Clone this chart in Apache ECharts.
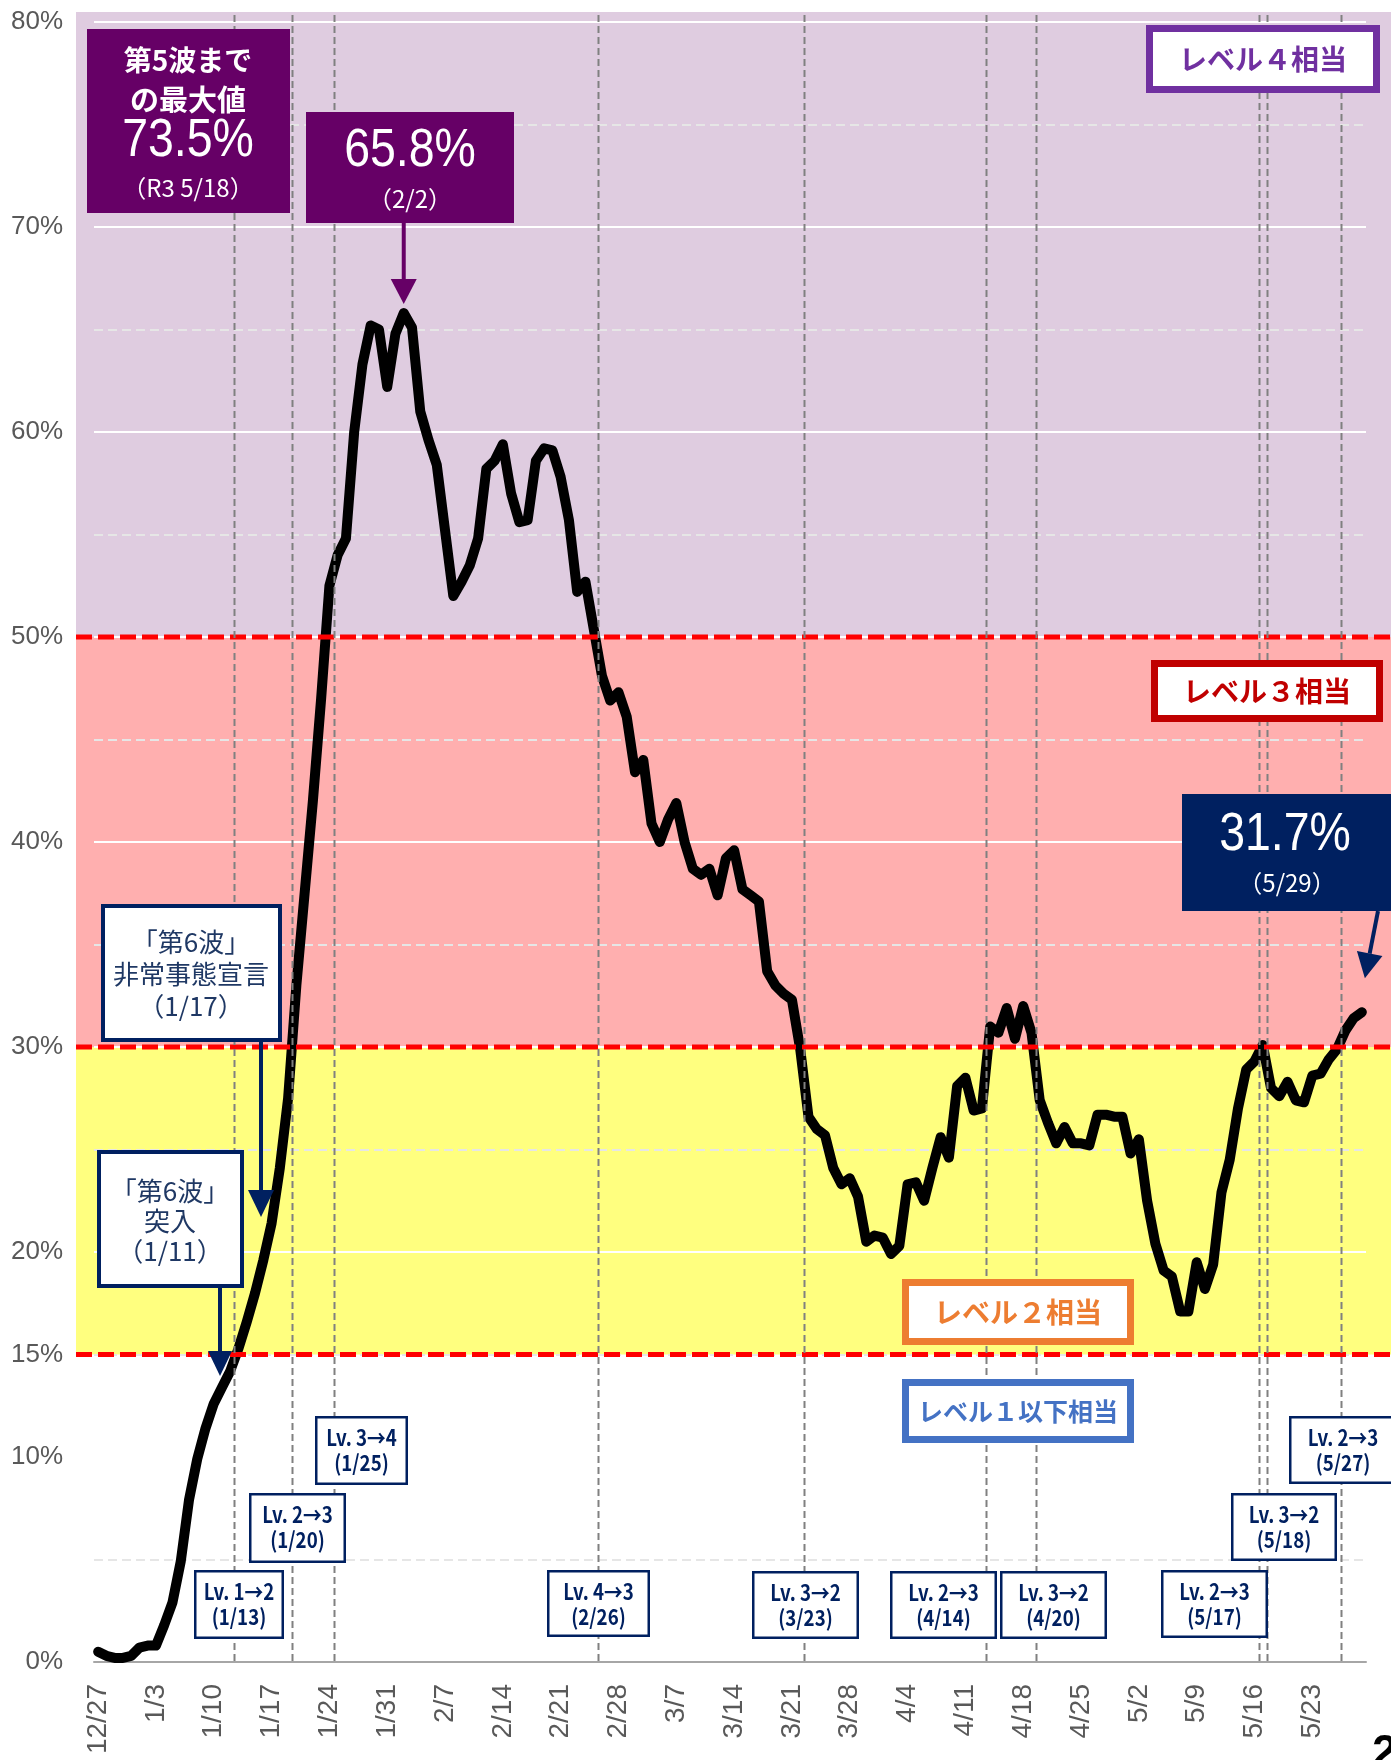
<!DOCTYPE html>
<html>
<head>
<meta charset="utf-8">
<script src="https://cdn.jsdelivr.net/npm/echarts@6/dist/echarts.min.js"></script>
<style>
  html, body { margin: 0; padding: 0; background: #fff; }
  #chart { width: 1391px; height: 1760px; }
</style>
</head>
<body>
<div id="chart"></div>
<script>
// days 12/27 - 5/29
const dates = [
  '12/27','12/28','12/29','12/30','12/31',
  '1/1','1/2','1/3','1/4','1/5','1/6','1/7','1/8','1/9','1/10','1/11','1/12','1/13','1/14','1/15','1/16',
  '1/17','1/18','1/19','1/20','1/21','1/22','1/23','1/24','1/25','1/26','1/27','1/28','1/29','1/30','1/31',
  '2/1','2/2','2/3','2/4','2/5','2/6','2/7','2/8','2/9','2/10','2/11','2/12','2/13','2/14','2/15','2/16',
  '2/17','2/18','2/19','2/20','2/21','2/22','2/23','2/24','2/25','2/26','2/27','2/28',
  '3/1','3/2','3/3','3/4','3/5','3/6','3/7','3/8','3/9','3/10','3/11','3/12','3/13','3/14','3/15','3/16',
  '3/17','3/18','3/19','3/20','3/21','3/22','3/23','3/24','3/25','3/26','3/27','3/28','3/29','3/30','3/31',
  '4/1','4/2','4/3','4/4','4/5','4/6','4/7','4/8','4/9','4/10','4/11','4/12','4/13','4/14','4/15','4/16',
  '4/17','4/18','4/19','4/20','4/21','4/22','4/23','4/24','4/25','4/26','4/27','4/28','4/29','4/30',
  '5/1','5/2','5/3','5/4','5/5','5/6','5/7','5/8','5/9','5/10','5/11','5/12','5/13','5/14','5/15','5/16',
  '5/17','5/18','5/19','5/20','5/21','5/22','5/23','5/24','5/25','5/26','5/27','5/28','5/29'
];

// bed occupancy rate (%)
const rate = [
  0.5, 0.3, 0.2, 0.2, 0.3,
  0.7, 0.8, 0.8, 1.8, 2.9, 4.9, 7.9, 9.9, 11.4, 12.6, 13.4, 14.2, 15.3, 16.6, 18.0, 19.6,
  21.4, 24.1, 27.5, 33.0, 37.5, 42.0, 47.0, 52.5, 54.0, 54.8, 60.0, 63.3, 65.2, 65.0, 62.2,
  64.8, 65.8, 65.1, 61.0, 59.6, 58.4, 55.2, 52.0, 52.7, 53.5, 54.8, 58.2, 58.6, 59.4, 57.0, 55.6,
  55.7, 58.6, 59.2, 59.1, 57.8, 55.7, 52.2, 52.7, 50.4, 48.1, 46.9, 47.3,
  46.1, 43.4, 44.0, 40.9, 40.0, 41.1, 41.9, 40.0, 38.7, 38.4, 38.7, 37.4, 39.2, 39.6, 37.7, 37.4,
  37.1, 33.7, 33.0, 32.6, 32.3, 29.9, 26.6, 26.0, 25.7, 24.1, 23.3, 23.6, 22.7, 20.5, 20.8,
  20.7, 19.9, 20.3, 23.3, 23.4, 22.5, 24.1, 25.6, 24.6, 28.1, 28.5, 26.9, 27.0, 31.0, 30.7, 31.9,
  30.4, 32.0, 30.7, 27.4, 26.3, 25.3, 26.1, 25.3, 25.3, 25.2, 26.7, 26.7, 26.6, 26.6,
  24.8, 25.5, 22.5, 20.4, 19.1, 18.8, 17.1, 17.1, 19.5, 18.2, 19.4, 22.9, 24.5, 27.0, 28.9, 29.3,
  30.1, 28.0, 27.6, 28.3, 27.4, 27.3, 28.6, 28.7, 29.4, 29.9, 30.8, 31.4, 31.7
];

const extraTickLabels = [15];
const levelLines = [50, 30, 15];
const levelChangeDates = ['1/13', '1/20', '1/25', '2/26', '3/23', '4/14', '4/20', '5/17', '5/18', '5/27'];
const levelChangeText = ['Lv. 1→2', 'Lv. 2→3', 'Lv. 3→4', 'Lv. 4→3', 'Lv. 3→2', 'Lv. 2→3', 'Lv. 3→2', 'Lv. 2→3', 'Lv. 3→2', 'Lv. 2→3'];

// box layout [left, top, width, height] for the Lv boxes
const lvBoxLayout = [
  [194, 1570, 90, 69], [249, 1493, 97, 70], [315, 1416, 93, 69], [547, 1570, 103, 67],
  [752, 1571, 107, 68], [890, 1571, 107, 68], [1000, 1571, 107, 68], [1161, 1570, 107, 68],
  [1231, 1493, 106, 68], [1289, 1416, 108, 68]
];

const NUM = '"Liberation Sans", sans-serif';
const JP = '"Noto Sans CJK JP", sans-serif';
const NAVY = '#002060';
const PURPLE = '#660066';

const chart = echarts.init(document.getElementById('chart'));

const option = {
  animation: false,
  backgroundColor: '#ffffff',
  grid: { left: 94, right: 25, top: 22, bottom: 98, outerBoundsMode: 'none' },
  xAxis: {
    type: 'category',
    data: dates,
    boundaryGap: true,
    axisLine: { lineStyle: { color: '#A6A6A6', width: 2 } },
    axisTick: { interval: 6, length: 10, lineStyle: { color: '#A6A6A6', width: 2 } },
    axisLabel: {
      interval: 6, rotate: 90, margin: 22,
      fontSize: 28, color: '#595959', fontFamily: 'Liberation Sans'
    },
    splitLine: { show: false }
  },
  yAxis: [
    {
      type: 'value', min: 0, max: 80, interval: 10,
      axisLine: { show: false }, axisTick: { show: false },
      axisLabel: { formatter: '{value}%', fontSize: 26, color: '#595959', margin: 31, fontFamily: 'Liberation Sans' },
      splitLine: { lineStyle: { color: '#ffffff', width: 2 } },
      minorTick: { show: false, splitNumber: 2 },
      minorSplitLine: { show: true, lineStyle: { color: '#E6E6E6', width: 2, type: [9, 5] } }
    },
    {
      type: 'value', min: 0, max: 80, interval: 5, position: 'left', offset: 0,
      axisLine: { show: false }, axisTick: { show: false }, splitLine: { show: false },
      axisLabel: {
        formatter: v => (extraTickLabels.includes(v) ? v + '%' : ''),
        fontSize: 26, color: '#595959', margin: 31, fontFamily: 'Liberation Sans'
      }
    }
  ],
  series: [
    {
      type: 'line',
      data: rate,
      symbol: 'none',
      z: 3,
      lineStyle: { color: '#000000', width: 10, cap: 'round', join: 'round' }
    }
  ]
};

chart.setOption(option);

// ---- overlay shapes (bands, guide lines, call-outs) ----
const yPx = v => chart.convertToPixel({ yAxisIndex: 0 }, v);
const xPx = d => chart.convertToPixel({ xAxisIndex: 0 }, d);
const bandW = xPx(dates[1]) - xPx(dates[0]);

const rect = (x, y, w, h, fill, stroke, lw, z) => ({
  type: 'rect', z: z,
  shape: { x: x + (lw || 0) / 2, y: y + (lw || 0) / 2, width: w - (lw || 0), height: h - (lw || 0) },
  style: { fill: fill, stroke: stroke || null, lineWidth: lw || 0 }
});
const text = (x, y, str, size, color, weight, family, lh, sx) => ({
  type: 'text', z: 12, x: x, y: y, scaleX: sx || 1,
  style: {
    text: str, fill: color, fontSize: size, fontWeight: weight || 'normal',
    fontFamily: family, textAlign: 'center', textVerticalAlign: 'middle',
    lineHeight: lh || size * 1.2
  }
});
const arrow = (x1, y1, x2, y2, color, lw, headL, headW) => {
  const dx = x2 - x1, dy = y2 - y1, len = Math.sqrt(dx * dx + dy * dy);
  const ux = dx / len, uy = dy / len;
  const bx = x2 - ux * headL, by = y2 - uy * headL;
  return [
    { type: 'line', z: 11, shape: { x1: x1, y1: y1, x2: bx, y2: by }, style: { stroke: color, lineWidth: lw } },
    {
      type: 'polygon', z: 11,
      shape: { points: [[x2, y2], [bx - uy * headW / 2, by + ux * headW / 2], [bx + uy * headW / 2, by - ux * headW / 2]] },
      style: { fill: color }
    }
  ];
};

const g = [];
const bandLeft = 76, bandRight = 1391, bandTop = 12;
g.push(rect(bandLeft, bandTop, bandRight - bandLeft, yPx(50) - bandTop, '#DFCCE0', null, 0, -5));
g.push(rect(bandLeft, yPx(50), bandRight - bandLeft, yPx(30) - yPx(50), '#FFAFAF', null, 0, -5));
g.push(rect(bandLeft, yPx(30), bandRight - bandLeft, yPx(15) - yPx(30), '#FFFF7F', null, 0, -5));

levelLines.forEach(v => {
  g.push({
    type: 'line', z: 6,
    shape: { x1: bandLeft, y1: yPx(v), x2: bandRight, y2: yPx(v) },
    style: { stroke: '#FF0000', lineWidth: 5, lineDash: [16, 6] }
  });
});

levelChangeDates.forEach(d => {
  const x = Math.round(xPx(d) - bandW / 2) + 0.5;
  g.push({
    type: 'line', z: 7,
    shape: { x1: x, y1: 15, x2: x, y2: yPx(0) },
    style: { stroke: '#808080', lineWidth: 2, lineDash: [7, 4] }
  });
});

// level boxes
g.push(rect(1146, 25, 234, 68, '#ffffff', '#7030A0', 7, 10));
g.push(text(1263, 59, 'レベル４相当', 28, '#7030A0', 'bold', JP));
g.push(rect(1151, 660, 232, 62, '#ffffff', '#C00000', 7, 10));
g.push(text(1267, 691, 'レベル３相当', 28, '#C00000', 'bold', JP));
g.push(rect(902, 1279, 232, 66, '#ffffff', '#ED7D31', 7, 10));
g.push(text(1018, 1312, 'レベル２相当', 28, '#ED7D31', 'bold', JP));
g.push(rect(902, 1379, 232, 64, '#ffffff', '#4472C4', 7, 10));
g.push(text(1018, 1411, 'レベル１以下相当', 25, '#4472C4', 'bold', JP));

// max of 5th wave
g.push(rect(87, 29, 203, 184, PURPLE, null, 0, 10));
g.push(text(188, 60, '第5波まで', 28, '#ffffff', 'bold', JP));
g.push(text(188, 100, 'の最大値', 29, '#ffffff', 'bold', JP));
g.push(text(188, 141, '73.5%', 54, '#ffffff', 'normal', NUM, null, 0.86));
g.push(text(188, 188, '（R3 5/18）', 24, '#ffffff', 'normal', JP));

// peak 2/2
g.push(rect(306, 112, 208, 111, PURPLE, null, 0, 10));
g.push(text(410, 151, '65.8%', 54, '#ffffff', 'normal', NUM, null, 0.86));
g.push(text(410, 199, '（2/2）', 24, '#ffffff', 'normal', JP));
const peakX = xPx('2/2');
g.push(...arrow(peakX, 223, peakX, yPx(65.8) - 9, PURPLE, 4, 25, 26));

// latest 5/29
g.push(rect(1182, 794, 209, 117, NAVY, null, 0, 10));
g.push(text(1285, 835, '31.7%', 54, '#ffffff', 'normal', NUM, null, 0.86));
g.push(text(1287, 883, '（5/29）', 24, '#ffffff', 'normal', JP));
g.push(...arrow(1378, 911, xPx('5/29') + 3, yPx(31.7) - 34, NAVY, 4, 25, 26));

// 6th wave call-outs
g.push(rect(101, 904, 181, 138, '#ffffff', NAVY, 4, 10));
g.push(text(191, 974, '「第6波」\n非常事態宣言\n（1/17）', 26, '#1F3864', 'normal', JP, 32));
g.push(...arrow(261, 1042, 261, 1217, NAVY, 4, 27, 26));
g.push(rect(97, 1150, 147, 138, '#ffffff', NAVY, 4, 10));
g.push(text(170, 1221, '「第6波」\n突入\n（1/11）', 26, '#1F3864', 'normal', JP, 30));
g.push(...arrow(220, 1288, 220, 1376, NAVY, 4, 25, 24));

// Lv change boxes
levelChangeDates.forEach((d, k) => {
  const [bx, by, bw, bh] = lvBoxLayout[k];
  g.push(rect(bx, by, bw, bh, '#ffffff', NAVY, 2.5, 10));
  g.push(text(bx + bw / 2, by + 22, levelChangeText[k], 22, NAVY, 'bold', JP, null, 0.85));
  g.push(text(bx + bw / 2, by + 47, '(' + d + ')', 22, NAVY, 'bold', JP, null, 0.85));
});

// cut-off page number at the corner
g.push({
  type: 'text', z: 12, x: 1372, y: 1731,
  style: { text: '2', fill: '#000000', fontSize: 46, fontWeight: 'bold', fontFamily: 'Liberation Sans', textAlign: 'left', textVerticalAlign: 'top' }
});

chart.setOption({ graphic: g });
</script>
</body>
</html>
